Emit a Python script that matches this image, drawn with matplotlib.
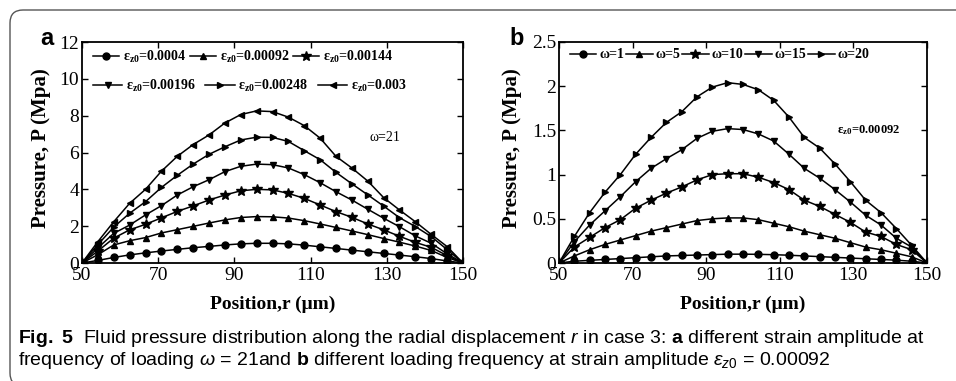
import matplotlib
matplotlib.use('Agg')
import matplotlib.pyplot as plt
from matplotlib import font_manager
from matplotlib.patches import FancyBboxPatch


def has_font(name):
    try:
        font_manager.findfont(name, fallback_to_default=False)
        return True
    except ValueError:
        return False


serif = 'Liberation Serif'
cap_font = 'Liberation Sans Narrow' if has_font('Liberation Sans Narrow') else 'Liberation Sans'

plt.rcParams['mathtext.fontset'] = 'custom'
plt.rcParams['mathtext.rm'] = cap_font
plt.rcParams['mathtext.it'] = cap_font + ':italic'
plt.rcParams['mathtext.bf'] = cap_font + ':bold'
plt.rcParams['mathtext.default'] = 'regular'

# radial position (um)
r_um = [50, 54.17, 58.33, 62.5, 66.67, 70.83, 75, 79.17, 83.33, 87.5, 91.67, 95.83, 100,
        104.17, 108.33, 112.5, 116.67, 120.83, 125, 129.17, 133.33, 137.5, 141.67, 145.83, 150]

# panel a: strain amplitude series, omega = 21
strain_labels = ['0.0004', '0.00092', '0.00144', '0.00196', '0.00248', '0.003']
p_s0004 = [0, 0.14, 0.30, 0.44, 0.55, 0.65, 0.74, 0.83, 0.90, 0.98, 1.04, 1.07, 1.07,
           1.04, 0.97, 0.88, 0.79, 0.70, 0.61, 0.52, 0.43, 0.34, 0.24, 0.11, 0]
p_s00092 = [0, 0.45, 0.98, 1.21, 1.38, 1.63, 1.81, 1.99, 2.17, 2.34, 2.47, 2.52, 2.51,
            2.44, 2.30, 2.12, 1.93, 1.74, 1.54, 1.33, 1.13, 0.92, 0.68, 0.30, 0]
p_s00144 = [0, 0.65, 1.35, 1.80, 2.10, 2.45, 2.80, 3.10, 3.42, 3.69, 3.92, 4.00, 3.97,
            3.78, 3.51, 3.15, 2.79, 2.48, 2.12, 1.80, 1.45, 1.12, 0.85, 0.40, 0]
p_s00196 = [0, 0.82, 1.61, 2.06, 2.61, 3.11, 3.69, 4.14, 4.52, 4.96, 5.25, 5.37, 5.34,
            5.16, 4.80, 4.36, 3.87, 3.42, 2.92, 2.43, 1.97, 1.47, 1.07, 0.50, 0]
p_s00248 = [0, 1.00, 1.95, 2.70, 3.33, 4.10, 4.76, 5.37, 5.90, 6.31, 6.68, 6.83, 6.82,
            6.60, 6.10, 5.61, 4.92, 4.30, 3.70, 3.09, 2.46, 1.98, 1.43, 0.73, 0]
p_s003 = [0, 1.16, 2.24, 3.24, 4.00, 4.98, 5.79, 6.43, 6.95, 7.60, 8.06, 8.26, 8.22,
          7.92, 7.46, 6.78, 5.79, 5.16, 4.45, 3.55, 2.88, 2.24, 1.55, 0.89, 0]
strain_series = [p_s0004, p_s00092, p_s00144, p_s00196, p_s00248, p_s003]

# panel b: loading frequency series, strain 0.00092
omega_labels = ['1', '5', '10', '15', '20']
p_w1 = [0, 0.02, 0.03, 0.04, 0.05, 0.06, 0.07, 0.08, 0.085, 0.09, 0.095, 0.10, 0.10,
        0.098, 0.094, 0.088, 0.08, 0.072, 0.064, 0.056, 0.048, 0.04, 0.032, 0.02, 0]
p_w5 = [0, 0.08, 0.15, 0.21, 0.26, 0.31, 0.36, 0.40, 0.44, 0.48, 0.50, 0.51, 0.51,
        0.49, 0.45, 0.41, 0.36, 0.32, 0.28, 0.23, 0.18, 0.15, 0.11, 0.07, 0]
p_w10 = [0, 0.18, 0.29, 0.40, 0.49, 0.62, 0.71, 0.79, 0.86, 0.94, 1.00, 1.01, 1.01,
         0.97, 0.91, 0.83, 0.71, 0.64, 0.55, 0.46, 0.35, 0.30, 0.21, 0.15, 0]
p_w15 = [0, 0.24, 0.43, 0.59, 0.75, 0.92, 1.07, 1.18, 1.28, 1.41, 1.49, 1.52, 1.51,
         1.46, 1.38, 1.23, 1.07, 0.96, 0.83, 0.69, 0.54, 0.43, 0.28, 0.18, 0]
p_w20 = [0, 0.30, 0.57, 0.80, 1.00, 1.23, 1.42, 1.59, 1.71, 1.88, 1.99, 2.04, 2.02,
         1.96, 1.84, 1.65, 1.42, 1.30, 1.12, 0.92, 0.71, 0.57, 0.39, 0.20, 0]
omega_series = [p_w1, p_w5, p_w10, p_w15, p_w20]

markers = ['o', '^', '*', 'v', '>', '<']
msizes = [5, 5, 7.5, 5, 5, 5]

W, H = 956, 381
fig = plt.figure(figsize=(W / 100, H / 100), dpi=100)

# rounded frame around the figure
frame = FancyBboxPatch((0.10, -0.05), 20, 3.76, boxstyle='round,pad=0,rounding_size=0.13',
                       transform=fig.dpi_scale_trans, fill=False, ec='#555555', lw=1.0)
fig.add_artist(frame)


def px_axes(l, t, r, b):
    return fig.add_axes([l / W, 1 - b / H, (r - l) / W, (b - t) / H])


def style_axes(ax, ymax, yticks, ylabels):
    ax.set_xlim(50, 150)
    ax.set_ylim(0, ymax)
    ax.set_xticks([50, 70, 90, 110, 130, 150])
    ax.set_yticks(yticks)
    ax.set_yticklabels(ylabels)
    ax.tick_params(direction='in', top=True, right=True, length=4, width=1.0,
                   labelsize=14, pad=2)
    ax.tick_params(axis='x', pad=3)
    for lab in ax.get_xticklabels() + ax.get_yticklabels():
        lab.set_family(serif)
    for sp in ax.spines.values():
        sp.set_linewidth(1.3)
    ax.set_xlabel('Position,r (μm)', family=serif, weight='bold', fontsize=14)
    ax.set_ylabel('Pressure, P (Mpa)', family=serif, weight='bold', fontsize=15)


leg_font = {'family': serif, 'weight': 'bold', 'size': 10}

# ---- panel a ----
axa = px_axes(82, 42, 463, 263)
handles_a = []
for vals, m, ms, lab in zip(strain_series, markers, msizes, strain_labels):
    h, = axa.plot(r_um, vals, color='k', lw=1.1, marker=m, ms=ms, mfc='k', mec='k',
                  label='ε$_{z0}$=' + lab)
    handles_a.append(h)
style_axes(axa, 12, [0, 2, 4, 6, 8, 10, 12], ['0', '2', '4', '6', '8', '10', '12'])
axa.xaxis.set_label_coords(0.5, -0.15)
axa.yaxis.set_label_coords(-0.082, 0.52)

leg1 = axa.legend(handles=handles_a[:3], ncol=3, loc='center left',
                  bbox_to_anchor=((93 - 82) / 381, (263 - 57) / 221), frameon=False,
                  prop=leg_font, borderpad=0, borderaxespad=0, handlelength=1.9,
                  handletextpad=0.25, columnspacing=0.25)
axa.add_artist(leg1)
axa.legend(handles=handles_a[3:], ncol=3, loc='center left',
           bbox_to_anchor=((93 - 82) / 381, (263 - 86) / 221), frameon=False,
           prop=leg_font, borderpad=0, borderaxespad=0, handlelength=2.1,
           handletextpad=0.25, columnspacing=0.7)
axa.text(0.755, 0.566, 'ω=21', transform=axa.transAxes, family=serif, fontsize=10,
         va='center')

# ---- panel b ----
axb = px_axes(559, 42, 927, 263)
handles_b = []
for vals, m, ms, lab in zip(omega_series, markers, msizes, omega_labels):
    h, = axb.plot(r_um, vals, color='k', lw=1.1, marker=m, ms=ms, mfc='k', mec='k',
                  label='ω=' + lab)
    handles_b.append(h)
style_axes(axb, 2.5, [0, 0.5, 1, 1.5, 2, 2.5], ['0', '0.5', '1', '1.5', '2', '2.5'])
axb.xaxis.set_label_coords(0.5, -0.15)
axb.yaxis.set_label_coords(-0.1, 0.52)
axb.legend(handles=handles_b, ncol=5, loc='center left',
           bbox_to_anchor=((570 - 559) / 368, (263 - 55) / 221), frameon=False,
           prop=leg_font, borderpad=0, borderaxespad=0, handlelength=1.9,
           handletextpad=0.2, columnspacing=0.15)
axb.text(0.755, 0.602, 'ε$_{z0}$=0.00092', transform=axb.transAxes, family=serif,
         weight='bold', fontsize=9, va='center')

# panel letters
fig.text(40 / W, 1 - 45 / H, 'a', family='Liberation Sans', weight='bold', fontsize=17,
         va='baseline')
fig.text(509 / W, 1 - 45 / H, 'b', family='Liberation Sans', weight='bold', fontsize=17,
         va='baseline')

# caption
cap1 = (r'$\mathbf{Fig.\ 5}$  Fluid pressure distribution along the radial displacement '
        r'$\mathit{r}$ in case 3: $\mathbf{a}$ different strain amplitude at')
cap2 = (r'frequency of loading $\mathit{\omega}$ = 21and $\mathbf{b}$ different loading '
        r'frequency at strain amplitude $\mathit{\varepsilon_{z0}}$ = 0.00092')
fig.text(18 / W, 1 - 343 / H, cap1, family=cap_font, fontsize=14, va='baseline',
         math_fontfamily='custom')
fig.text(18 / W, 1 - 365 / H, cap2, family=cap_font, fontsize=14, va='baseline',
         math_fontfamily='custom')

fig.savefig('out.png', dpi=100)
